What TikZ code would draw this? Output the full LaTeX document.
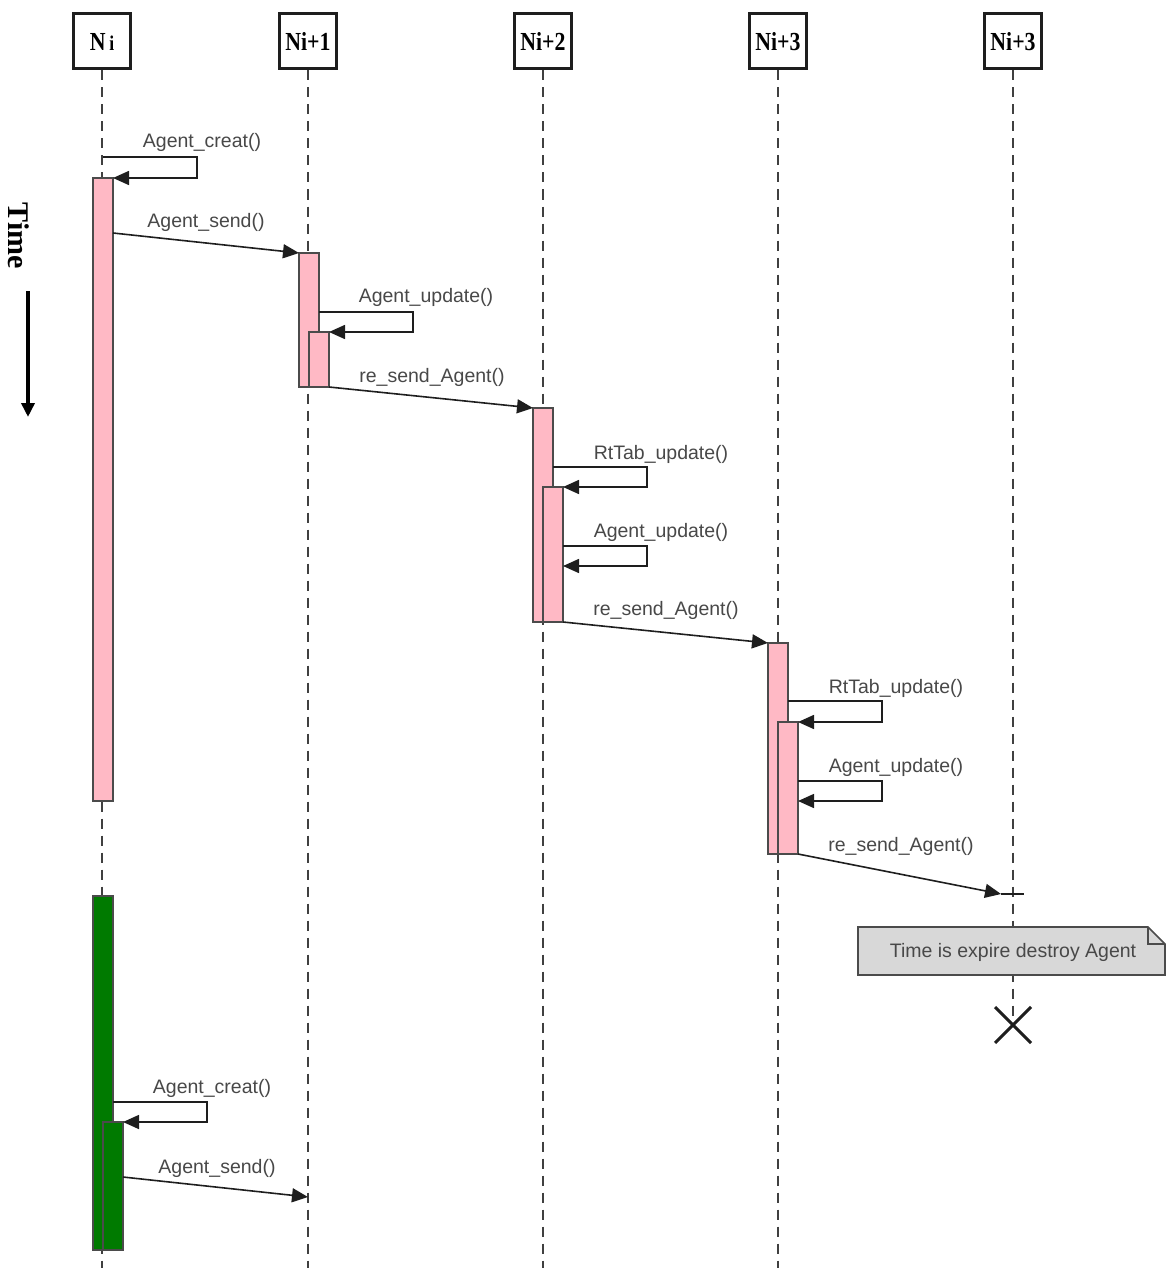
\documentclass[tikz,border=0pt]{standalone}
\usepackage{fontspec}
\setmainfont{Liberation Serif}
\setsansfont{Liberation Sans}
\usepackage{graphicx}
\usetikzlibrary{arrows.meta,calc}
\definecolor{barpink}{RGB}{255,185,197}
\definecolor{bargreen}{RGB}{0,122,0}
\definecolor{ink}{RGB}{30,30,30}
\definecolor{labelgray}{RGB}{72,72,72}
\definecolor{notefill}{RGB}{216,216,216}
% condensed bold caption used inside the participant boxes
\newcommand{\headtext}[1]{\scalebox{0.84}[1]{#1}}

\begin{document}
\begin{tikzpicture}[x=1pt,y=-1pt,
  head/.style={draw=ink, line width=3pt, fill=white, minimum width=57pt,
    minimum height=55pt, inner sep=0pt, font=\bfseries\fontsize{26}{26}\selectfont},
  life/.style={draw=ink!85, line width=2.2pt, dash pattern=on 10pt off 7pt},
  pinkbar/.style={draw=ink!80, line width=1.5pt, fill=barpink, minimum width=20pt,
    inner sep=0pt, outer sep=0pt, anchor=north west},
  greenbar/.style={pinkbar, fill=bargreen},
  msg/.style={draw=ink, line width=1.6pt, -{Triangle[length=16pt,width=14pt]}},
  lbl/.style={font=\sffamily\fontsize{19.5}{19.5}\selectfont, text=labelgray,
    inner sep=0pt, anchor=base},
]
\useasboundingbox (0,0) rectangle (1167,1268);

% ---- participants -------------------------------------------------------
\node[head] (h1) at (102,41.5) {\headtext{N\,{\fontsize{21}{21}\selectfont i}}};
\node[head] (h2) at (308,41.5) {\headtext{Ni+1}};
\node[head] (h3) at (543,41.5) {\headtext{Ni+2}};
\node[head] (h4) at (778,41.5) {\headtext{Ni+3}};
\node[head] (h5) at (1013,41.5) {\headtext{Ni+3}};

% ---- lifelines ------------------------------------------------------------
\coordinate (e1) at (102,1268);
\coordinate (e2) at (308,1268);
\coordinate (e3) at (543,1268);
\coordinate (e4) at (778,1268);
\coordinate (xc) at (1013,1025);
\draw[life] (h1.south) -- (e1);
\draw[life] (h2.south) -- (e2);
\draw[life] (h3.south) -- (e3);
\draw[life] (h4.south) -- (e4);
\draw[life] (h5.south) -- (xc);

% ---- activation bars -------------------------------------------------------
\node[pinkbar, minimum height=623pt] (A1) at (93,178) {};
\node[pinkbar, minimum height=134pt] (B1) at (299,253) {};
\node[pinkbar, minimum height=55pt]  (B2) at (309,332) {};
\node[pinkbar, minimum height=214pt] (C1) at (533,408) {};
\node[pinkbar, minimum height=135pt] (C2) at (543,487) {};
\node[pinkbar, minimum height=211pt] (D1) at (768,643) {};
\node[pinkbar, minimum height=132pt] (D2) at (778,722) {};
\node[greenbar, minimum height=354pt] (G1) at (93,896) {};
\node[greenbar, minimum height=128pt] (G2) at (103,1122) {};

% ---- message end points -----------------------------------------------------
\coordinate (m1) at (103,157);
\coordinate (m2) at (113,233);
\coordinate (m3) at (319,312);
\coordinate (m4) at (553,467);
\coordinate (m5) at (563,546);
\coordinate (m5e) at (563,566);
\coordinate (m6) at (788,701);
\coordinate (m7) at (798,781);
\coordinate (m7e) at (798,801);
\coordinate (m8e) at (1001,894);
\coordinate (m8t) at (1024,894);
\coordinate (g1) at (113,1102);
\coordinate (g2) at (123,1177);
\coordinate (g2e) at (308,1197);

% ---- messages ---------------------------------------------------------------
\draw[msg] (m1) -- ++(94,0) |- (A1.north east);
\node[lbl] (t1) at (202,148) {Agent\_creat()};
\draw[msg] (m2) -- (B1.north west);
\node[lbl] (t2) at (206,227) {Agent\_send()};

\draw[msg] (m3) -- ++(94,0) |- (B2.north east);
\node[lbl] (t3) at (426,302) {Agent\_update()};
\draw[msg] (B2.south east) -- (C1.north west);
\node[lbl] (t4) at (432,382) {re\_send\_Agent()};

\draw[msg] (m4) -- ++(94,0) |- (C2.north east);
\node[lbl] (t5) at (661,459) {RtTab\_update()};
\draw[msg] (m5) -- ++(84,0) |- (m5e);
\node[lbl] (t6) at (661,537) {Agent\_update()};
\draw[msg] (C2.south east) -- (D1.north west);
\node[lbl] (t7) at (666,615) {re\_send\_Agent()};

\draw[msg] (m6) -- ++(94,0) |- (D2.north east);
\node[lbl] (t8) at (896,693) {RtTab\_update()};
\draw[msg] (m7) -- ++(84,0) |- (m7e);
\node[lbl] (t9) at (896,772) {Agent\_update()};
\draw[msg] (D2.south east) -- (m8e);
\draw[draw=ink, line width=1.6pt] (m8e) -- (m8t);
\node[lbl] (t10) at (901,851) {re\_send\_Agent()};

\draw[msg] (g1) -- ++(94,0) |- (G2.north east);
\node[lbl] (t11) at (212,1093) {Agent\_creat()};
\draw[msg] (g2) -- (g2e);
\node[lbl] (t12) at (217,1173) {Agent\_send()};

% ---- note with folded corner -----------------------------------------------
\coordinate (nw) at (858,927);
\coordinate (se) at (1165,975);
\draw[draw=ink!80, line width=1.6pt, fill=notefill]
  (nw) -- ($(se|-nw)+(-17,0)$) -- ($(se|-nw)+(0,17)$) -- (se) -- (nw|-se) -- cycle;
\draw[draw=ink!80, line width=1.6pt]
  ($(se|-nw)+(-17,0)$) -- ($(se|-nw)+(-17,17)$) -- ($(se|-nw)+(0,17)$);
\node[lbl] (note) at (1013,957) {Time is expire destroy Agent};

% ---- destruction mark -------------------------------------------------------
\draw[draw=ink, line width=3pt] ($(xc)+(-18,-18)$) -- ($(xc)+(18,18)$);
\draw[draw=ink, line width=3pt] ($(xc)+(-18,18)$) -- ($(xc)+(18,-18)$);

% ---- time axis --------------------------------------------------------------
\node[font=\bfseries\fontsize{30}{30}\selectfont, rotate=-90, inner sep=0pt] (time) at (19,236) {Time};
\coordinate (ta) at (28,291);
\coordinate (tb) at (28,417);
\draw[line width=4pt, -{Triangle[length=14pt,width=13pt]}] (ta) -- (tb);
\end{tikzpicture}
\end{document}
